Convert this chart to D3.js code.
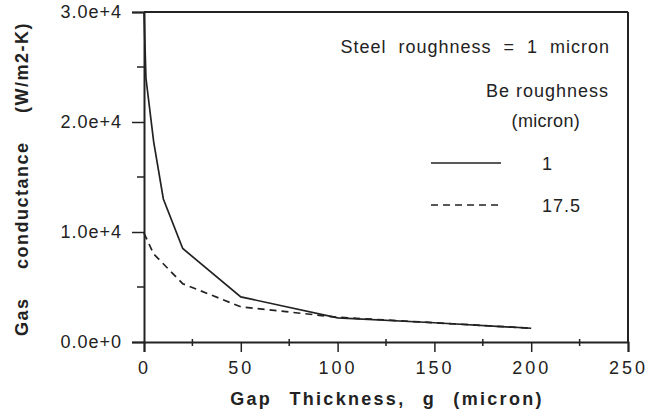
<!DOCTYPE html>
<html>
<head>
<meta charset="utf-8">
<script src="https://cdn.jsdelivr.net/npm/d3@7"></script>
<style>
  body { margin: 0; background: #fff; }
  text { font-family: "Liberation Sans", Arial, sans-serif; fill: #222; }
</style>
</head>
<body>
<svg id="chart" width="649" height="419"></svg>
<script>
// gap thickness (micron)
const gapSolid = [0, 1, 5, 10, 20, 50, 100, 150, 200];
const condSolid = [30000, 24000, 18200, 13000, 8500, 4100, 2200, 1750, 1250];
const gapDashed = [0, 5, 20, 50, 100, 150, 200];
const condDashed = [9900, 8000, 5300, 3200, 2250, 1750, 1250];
const xTicks = [0, 50, 100, 150, 200, 250];
const yTicks = [0, 10000, 20000, 30000];
const yTickLabels = ["0.0e+0", "1.0e+4", "2.0e+4", "3.0e+4"];
const legendItems = [
    { label: "1", dash: null },
    { label: "17.5", dash: "7,5" }
];

const svg = d3.select("#chart");
const margin = { left: 144, right: 21, top: 12, bottom: 77 };
const width = 649 - margin.left - margin.right;
const height = 419 - margin.top - margin.bottom;

const g = svg.append("g").attr("transform", `translate(${margin.left},${margin.top})`);

const x = d3.scaleLinear().domain([0, 250]).range([0, width]);
const y = d3.scaleLinear().domain([0, 30000]).range([height, 0]);

// frame top and right
g.append("line").attr("x1", 0).attr("x2", width).attr("y1", 0).attr("y2", 0)
    .attr("stroke", "#222").attr("stroke-width", 2);
g.append("line").attr("x1", width).attr("x2", width).attr("y1", 0).attr("y2", height)
    .attr("stroke", "#222").attr("stroke-width", 2);

// x axis
const xAxis = g.append("g")
    .attr("transform", `translate(0,${height})`)
    .call(d3.axisBottom(x).tickValues(xTicks).tickSize(10).tickPadding(9).tickFormat(d3.format("d")));
// minor x ticks
g.append("g").selectAll("line")
    .data(d3.range(25, 250, 50))
    .join("line")
    .attr("x1", d => x(d)).attr("x2", d => x(d))
    .attr("y1", height - 3).attr("y2", height + 4)
    .attr("stroke", "#222").attr("stroke-width", 1.5);

// y axis
const yAxis = g.append("g")
    .call(d3.axisLeft(y).tickValues(yTicks).tickSize(12).tickPadding(10)
        .tickFormat((d, i) => yTickLabels[i]));
g.append("g").selectAll("line")
    .data([5000, 15000, 25000])
    .join("line")
    .attr("x1", -7).attr("x2", 0)
    .attr("y1", d => y(d)).attr("y2", d => y(d))
    .attr("stroke", "#222").attr("stroke-width", 1.5);

[xAxis, yAxis].forEach(a => {
    a.select(".domain").attr("stroke", "#222").attr("stroke-width", 2);
    a.selectAll(".tick line").attr("stroke", "#222").attr("stroke-width", 1.5);
    a.selectAll(".tick text").attr("font-size", 18).attr("fill", "#222")
        .style("font-family", "'Liberation Sans', Arial, sans-serif");
});
yAxis.selectAll(".tick text").attr("letter-spacing", "1px");
xAxis.selectAll(".tick text").attr("letter-spacing", "3px");

// lines
const line = d3.line().x(d => x(d[0])).y(d => y(d[1]));
g.append("path")
    .datum(gapSolid.map((v, i) => [v, condSolid[i]]))
    .attr("d", line).attr("fill", "none").attr("stroke", "#222").attr("stroke-width", 1.7);
g.append("path")
    .datum(gapDashed.map((v, i) => [v, condDashed[i]]))
    .attr("d", line).attr("fill", "none").attr("stroke", "#222").attr("stroke-width", 1.7)
    .attr("stroke-dasharray", "7,5");

// annotation / legend
svg.append("text").attr("x", 610).attr("y", 53).attr("text-anchor", "end")
    .attr("font-size", 18).attr("letter-spacing", "1px").attr("word-spacing", "6px")
    .text("Steel roughness = 1 micron");
svg.append("text").attr("x", 609).attr("y", 97).attr("text-anchor", "end")
    .attr("font-size", 18).attr("letter-spacing", "1px").text("Be roughness");
svg.append("text").attr("x", 580).attr("y", 127).attr("text-anchor", "end")
    .attr("font-size", 18).attr("letter-spacing", "0.3px").text("(micron)");

const leg = svg.append("g").selectAll("g")
    .data(legendItems)
    .join("g")
    .attr("transform", (d, i) => `translate(431,${163 + i * 42})`);
leg.append("line").attr("x1", 0).attr("x2", 70)
    .attr("stroke", "#222").attr("stroke-width", 1.5)
    .attr("stroke-dasharray", d => d.dash);
leg.append("text").attr("x", 111).attr("y", 7)
    .attr("font-size", 18).attr("letter-spacing", "1px").text(d => d.label);

// axis titles
svg.append("text")
    .attr("x", 387).attr("y", 405).attr("text-anchor", "middle")
    .attr("font-size", 18).attr("font-weight", "bold").attr("letter-spacing", "2.3px")
    .attr("word-spacing", "10px")
    .text("Gap Thickness, g (micron)");
svg.append("text")
    .attr("transform", "translate(28,179) rotate(-90)")
    .attr("text-anchor", "middle")
    .attr("font-size", 18).attr("font-weight", "bold").attr("letter-spacing", "1.5px")
    .attr("word-spacing", "22px")
    .text("Gas conductance (W/m2-K)");
</script>
</body>
</html>
